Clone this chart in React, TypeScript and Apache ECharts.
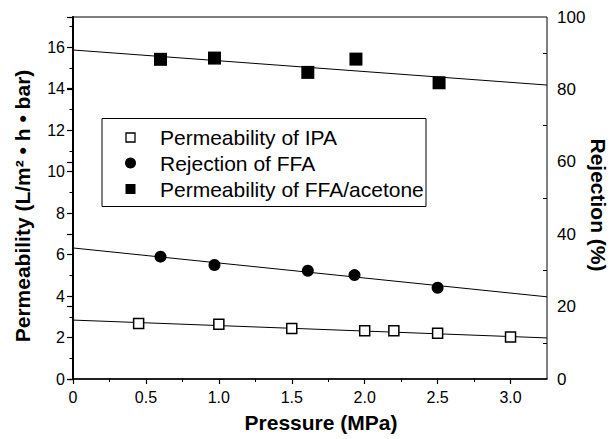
import React, { useEffect, useRef } from 'react';
import * as echarts from 'echarts';

// ---- data ----
const pressureIPA = [0.45, 1.0, 1.5, 2.0, 2.2, 2.5, 3.0];
const permeabilityIPA = [2.68, 2.64, 2.44, 2.33, 2.33, 2.2, 2.02];

const pressureFFA = [0.6, 0.97, 1.61, 1.93, 2.5];
const rejectionFFA = [33.8, 31.5, 29.9, 28.7, 25.2];

const pressureAcetone = [0.6, 0.97, 1.61, 1.94, 2.51];
const permeabilityAcetone = [15.41, 15.47, 14.78, 15.42, 14.28];

// fitted straight lines: [pressure, value] at both ends
const fitIPA = [[0, 2.84], [3.25, 1.98]];
const fitRejection = [[0, 36.2], [3.25, 22.7]];
const fitAcetone = [[0, 15.86], [3.25, 14.17]];

const xTicks = [0, 0.5, 1.0, 1.5, 2.0, 2.5, 3.0];
const xMinorTicks = [0.25, 0.75, 1.25, 1.75, 2.25, 2.75];
const leftTicks = [0, 2, 4, 6, 8, 10, 12, 14, 16];
const leftMinorTicks = [1, 3, 5, 7, 9, 11, 13, 15, 17];
const rightTicks = [0, 20, 40, 60, 80, 100];
const rightMinorTicks = [10, 30, 50, 70, 90];

const legendNames = ['Permeability of IPA', 'Rejection of FFA', 'Permeability of FFA/acetone'];

const FONT = '"Liberation Sans", Arial, Helvetica, sans-serif';

const zip = (xs: number[], ys: number[]) => xs.map((x, i) => [x, ys[i]]);

export default function App() {
  const ref = useRef<HTMLDivElement>(null);
  useEffect(() => {
    document.body.style.margin = '0';
    const chart = echarts.init(ref.current!, null, { renderer: 'svg' });
    const black = '#000';
    const leftMax = 17.45;
    const option: any = {
      animation: false,
      backgroundColor: '#fff',
      grid: { left: 73, right: 64, top: 17, bottom: 60, show: true, borderColor: black, borderWidth: 1, backgroundColor: 'transparent' },
      xAxis: [
        {
          type: 'value', min: 0, max: 3.25, position: 'bottom',
          axisLine: { show: true, lineStyle: { color: black, width: 1.5 } },
          axisTick: { show: true, customValues: xTicks, length: 5, inside: false, lineStyle: { color: black, width: 1.2 } },
          axisLabel: {
            customValues: xTicks, color: black, fontSize: 16, fontFamily: FONT, margin: 10,
            formatter: (v: number) => (v === 0 ? '0' : v.toFixed(1)),
          },
          splitLine: { show: false },
        },
        {
          type: 'value', min: 0, max: 3.25, position: 'bottom',
          axisLine: { show: false },
          axisTick: { show: true, customValues: xMinorTicks, length: 3, inside: false, lineStyle: { color: black, width: 1 } },
          axisLabel: { show: false },
          splitLine: { show: false },
        },
      ],
      yAxis: [
        {
          type: 'value', min: 0, max: leftMax, position: 'left',
          axisLine: { show: true, lineStyle: { color: black, width: 2 } },
          axisTick: { show: true, customValues: leftTicks, length: 6, inside: false, lineStyle: { color: black, width: 1.2 } },
          axisLabel: { customValues: leftTicks, color: black, fontSize: 16, fontFamily: FONT, margin: 8 },
          splitLine: { show: false },
        },
        {
          type: 'value', min: 0, max: 100, position: 'right',
          axisLine: { show: true, lineStyle: { color: black, width: 1.5 } },
          axisTick: { show: true, customValues: rightTicks, length: 6, inside: true, lineStyle: { color: black, width: 1.2 } },
          axisLabel: { customValues: rightTicks, color: black, fontSize: 17, fontFamily: FONT, margin: 10 },
          splitLine: { show: false },
        },
        {
          type: 'value', min: 0, max: leftMax, position: 'left',
          axisLine: { show: false },
          axisTick: { show: true, customValues: leftMinorTicks, length: 3.5, inside: false, lineStyle: { color: black, width: 1 } },
          axisLabel: { show: false },
          splitLine: { show: false },
        },
        {
          type: 'value', min: 0, max: 100, position: 'right',
          axisLine: { show: false },
          axisTick: { show: true, customValues: rightMinorTicks, length: 4, inside: true, lineStyle: { color: black, width: 1 } },
          axisLabel: { show: false },
          splitLine: { show: false },
        },
      ],
      series: [
        { type: 'line', name: 'fitIPA', data: fitIPA, xAxisIndex: 0, yAxisIndex: 0, symbol: 'none', lineStyle: { color: black, width: 1 }, z: 1, silent: true },
        { type: 'line', name: 'fitRejection', data: fitRejection, xAxisIndex: 0, yAxisIndex: 1, symbol: 'none', lineStyle: { color: black, width: 1 }, z: 1, silent: true },
        { type: 'line', name: 'fitAcetone', data: fitAcetone, xAxisIndex: 0, yAxisIndex: 0, symbol: 'none', lineStyle: { color: black, width: 1 }, z: 1, silent: true },
        {
          type: 'scatter', name: legendNames[0], data: zip(pressureIPA, permeabilityIPA), xAxisIndex: 0, yAxisIndex: 0,
          symbol: 'rect', symbolSize: 10, itemStyle: { color: '#fff', borderColor: black, borderWidth: 1.5, opacity: 1 }, z: 3,
        },
        {
          type: 'scatter', name: legendNames[1], data: zip(pressureFFA, rejectionFFA), xAxisIndex: 0, yAxisIndex: 1,
          symbol: 'circle', symbolSize: 12, itemStyle: { color: black, opacity: 1 }, z: 3,
        },
        {
          type: 'scatter', name: legendNames[2], data: zip(pressureAcetone, permeabilityAcetone), xAxisIndex: 0, yAxisIndex: 0,
          symbol: 'rect', symbolSize: 13, itemStyle: { color: black, opacity: 1 }, z: 3,
        },
      ],
      graphic: [
        { type: 'rect', shape: { x: 102, y: 118.5, width: 324, height: 88 }, style: { fill: 'transparent', stroke: black, lineWidth: 1 }, z: 5 },
        { type: 'rect', shape: { x: 126, y: 133, width: 9, height: 9 }, style: { fill: '#fff', stroke: black, lineWidth: 1.3 }, z: 6 },
        { type: 'circle', shape: { cx: 130.5, cy: 163, r: 5.5 }, style: { fill: black }, z: 6 },
        { type: 'rect', shape: { x: 125.5, y: 184, width: 10, height: 10 }, style: { fill: black }, z: 6 },
        ...legendNames.map((t, i) => ({
          type: 'text', x: 160, y: [137.5, 163, 189][i], z: 6,
          style: { text: t, font: `21px ${FONT}`, fill: black, textAlign: 'left', textVerticalAlign: 'middle', align: 'left', verticalAlign: 'middle' },
        })),
        {
          type: 'text', x: 321, y: 422, z: 6,
          style: { text: 'Pressure (MPa)', font: `bold 21px ${FONT}`, fill: black, textAlign: 'center', textVerticalAlign: 'middle', align: 'center', verticalAlign: 'middle' },
        },
        {
          type: 'text', x: 22, y: 206, rotation: Math.PI / 2, z: 6,
          style: { text: 'Permeability (L/m² • h • bar)', font: `bold 21px ${FONT}`, fill: black, textAlign: 'center', textVerticalAlign: 'middle', align: 'center', verticalAlign: 'middle' },
        },
        {
          type: 'text', x: 598, y: 205, rotation: -Math.PI / 2, z: 6,
          style: { text: 'Rejection (%)', font: `bold 21px ${FONT}`, fill: black, textAlign: 'center', textVerticalAlign: 'middle', align: 'center', verticalAlign: 'middle' },
        },
      ],
    };
    chart.setOption(option);
    return () => chart.dispose();
  }, []);
  return <div ref={ref} style={{ width: 611, height: 439, position: 'absolute', left: 0, top: 0 }} />;
}
